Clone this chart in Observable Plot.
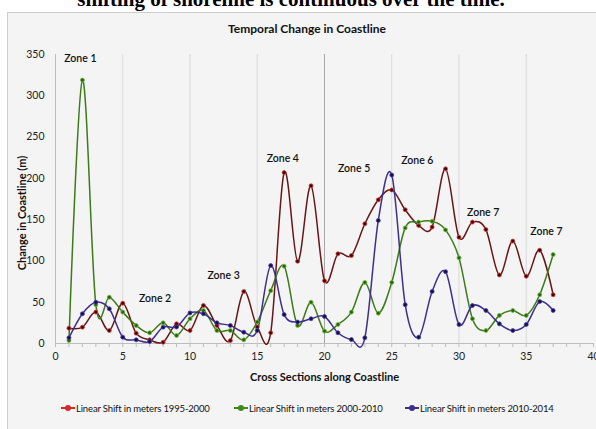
<!DOCTYPE html>
<html><head><meta charset="utf-8">
<script src="https://cdn.jsdelivr.net/npm/d3@7"></script>
<script src="https://cdn.jsdelivr.net/npm/@observablehq/plot@0.6"></script>
<style>
body{margin:0;background:#fff;width:596px;height:429px;overflow:hidden;position:relative;font-family:Lato,sans-serif}
#top{position:absolute;left:0;top:-11px;width:582px;text-align:center;font-weight:bold;font-size:21px;font-family:"Liberation Serif",serif;line-height:21px;white-space:nowrap;color:#000}
#box{position:absolute;left:7px;top:12px;width:600px;height:430px;background:#f4f4f4;border-left:1px solid #cdcdcd;border-top:1px solid #cdcdcd}
#title{position:absolute;left:0;top:21px;width:614px;text-align:center;font-weight:bold;font-size:12px;font-family:Lato,sans-serif;color:#111}
#chart{position:absolute;left:0;top:0}
.leg{position:absolute;top:402px;height:12px;display:flex;align-items:center;font-size:9.5px;letter-spacing:-0.15px;font-family:Lato,sans-serif;color:#111;white-space:nowrap}
.mk{position:relative;width:14px;height:10px;margin-right:1px}
.mk .ln{position:absolute;left:0;top:4px;width:14px;height:2px}
.mk .dt{position:absolute;left:4px;top:2px;width:6px;height:6px;border-radius:50%}
</style></head>
<body>
<div id="top">shifting of shoreline is continuous over the time.</div>
<div id="box"></div>
<div id="title">Temporal Change in Coastline</div>
<div id="chart"></div>
<div id="legend"></div>
<script>
// ---- data ----
const crossSections = d3.range(1, 38);
const shift1995_2000 = [18.6, 19.8, 38, 15.7, 48.8, 12.5, 4.4, 1.6, 23.8, 15.7, 46, 21.8, 3.6, 63, 20, 13, 207, 99.6, 191, 76, 108.6, 106.5, 145, 174, 186, 162, 143, 141, 211.5, 128.7, 147, 138, 83, 124, 81.5, 113, 59];
const shift2000_2010 = [3.6, 319, 47, 56, 38, 21.8, 13, 25, 9.7, 30, 40, 15.7, 15.7, 4.4, 26, 64, 93.6, 21.8, 50, 15, 23, 38, 74, 36.7, 74, 140, 147, 148, 137.6, 103.7, 30, 15.7, 34, 40, 34, 59, 107.7];
const shift2010_2014 = [6.9, 36, 50, 42, 7.7, 4.4, 2.4, 19.8, 20, 37, 36, 25, 21.8, 13.7, 15.7, 94.4, 35, 26, 30, 32.7, 13, 4.8, 6.9, 149, 204, 47, 7.6, 63, 87, 23, 46, 40, 23.8, 15.7, 23, 50.8, 40];
const seriesNames = ["Linear Shift in meters 1995-2000", "Linear Shift in meters 2000-2010", "Linear Shift in meters 2010-2014"];
const zoneNames = ["Zone 1", "Zone 2", "Zone 3", "Zone 4", "Zone 5", "Zone 6", "Zone 7", "Zone 7"];
const zoneX = [1.85, 7.4, 12.5, 16.9, 22.2, 26.9, 31.8, 36.5];
const zoneY = [345, 54.5, 82, 224, 212, 221.6, 158.6, 135.6];
const xTicks = d3.range(0, 41);
const yTicks = d3.range(0, 351, 50);
const gridX = [5, 10, 15, 25, 30, 35];

// ---- styles ----
const styles = [
  {line: "#661616", dot: "#3a0808", dotStroke: "#e03a3a", leg: "#d42a2a"},
  {line: "#3c7a1a", dot: "#2f5f12", dotStroke: "#6cc03a", leg: "#3f8a1c"},
  {line: "#3e2f8e", dot: "#14123f", dotStroke: "#4a3fb0", leg: "#3e2f8e"}
];
const allSeries = [shift1995_2000, shift2000_2010, shift2010_2014];

const lineMarks = [];
allSeries.forEach((vals, k) => {
  const rows = vals.map((v, i) => ({x: crossSections[i], y: v}));
  lineMarks.push(Plot.line(rows, {x: "x", y: "y", curve: "cardinal", stroke: styles[k].line, strokeWidth: 1.5}));
});
allSeries.forEach((vals, k) => {
  const rows = vals.map((v, i) => ({x: crossSections[i], y: v}));
  lineMarks.push(Plot.dot(rows, {x: "x", y: "y", r: 2, fill: styles[k].dot, stroke: styles[k].dotStroke, strokeWidth: 0.8}));
});

const zones = zoneNames.map((n, i) => ({n, x: zoneX[i], y: zoneY[i]}));

const chart = Plot.plot({
  width: 596,
  height: 395,
  marginLeft: 55,
  marginRight: 3,
  marginTop: 54,
  marginBottom: 52,
  style: {background: "transparent", fontFamily: "Lato, sans-serif", color: "#222"},
  x: {domain: [0, 40]},
  y: {domain: [0, 350]},
  marks: [
    Plot.ruleX(gridX, {stroke: "#d9d9d9", y1: 0, y2: 350}),
    Plot.ruleX([20], {stroke: "#a6a6a6", y1: 0, y2: 350}),
    Plot.ruleX([0], {stroke: "#bdbdbd", y1: 0, y2: 350}),
    Plot.ruleY([0], {stroke: "#bdbdbd", x1: 0, x2: 40}),
    Plot.axisX({ticks: xTicks, tickSize: 4, tickPadding: 5, stroke: "#bdbdbd", fill: "#222", fontSize: 10.5,
      tickFormat: d => d % 5 === 0 ? String(d) : "", label: null}),
    Plot.axisY({ticks: yTicks, tickSize: 0, tickPadding: 11, fill: "#222", fontSize: 10.5, label: null}),
    Plot.text(["Cross Sections along Coastline"], {frameAnchor: "bottom", dy: 37, fontSize: 11, fontWeight: "bold", fill: "#111"}),
    Plot.text(["Change in Coastline (m)"], {frameAnchor: "left", textAnchor: "middle", dx: -33, dy: 14, rotate: -90, fontSize: 11, fontWeight: "bold", fill: "#111"}),
    ...lineMarks,
    Plot.text(zones, {x: "x", y: "y", text: "n", fontSize: 10.5, fontWeight: 600, fill: "#111"})
  ]
});
document.getElementById("chart").appendChild(chart);

// legend
const legLeft = [61, 234, 405];
const legend = document.getElementById("legend");
seriesNames.forEach((name, k) => {
  const d = document.createElement("div");
  d.className = "leg";
  d.style.left = legLeft[k] + "px";
  d.innerHTML = `<span class="mk"><span class="ln" style="background:${styles[k].leg}"></span><span class="dt" style="background:${styles[k].leg}"></span></span><span>${name}</span>`;
  legend.appendChild(d);
});
</script>
</body></html>
